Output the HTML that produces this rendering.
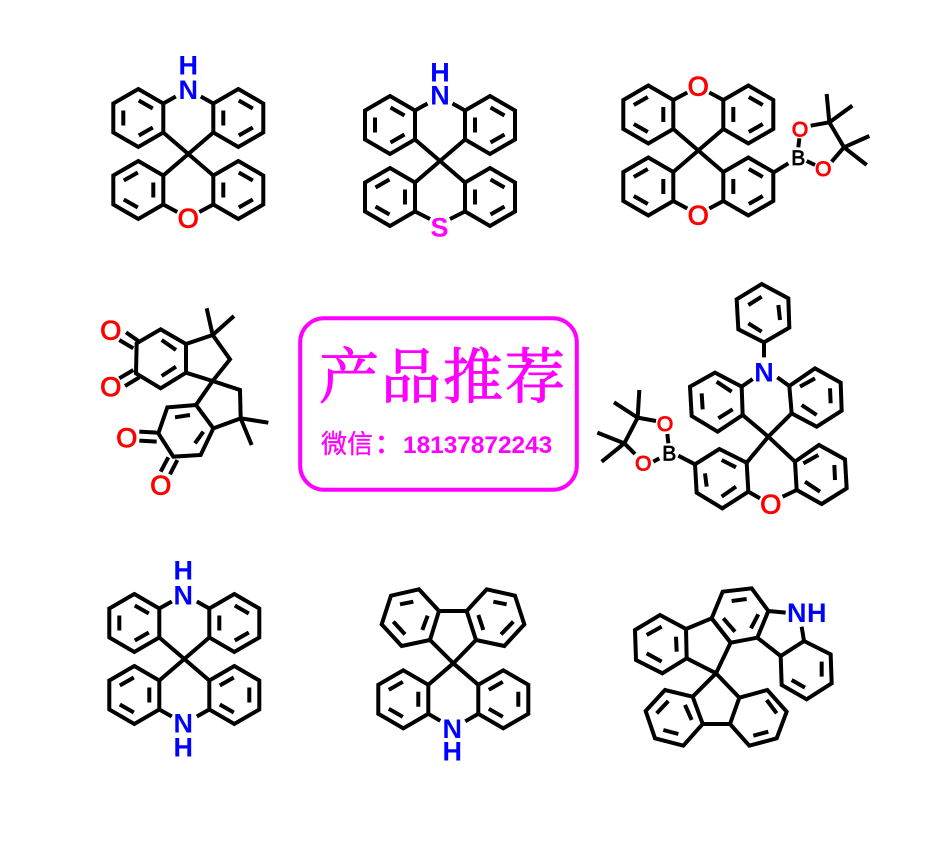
<!DOCTYPE html>
<html><head><meta charset="utf-8"><style>
html,body{margin:0;padding:0;background:#fff}
svg{display:block}
.b{fill:none;stroke:#000;stroke-width:4;stroke-linejoin:miter}
.z{fill:none;stroke:#000;stroke-width:12;stroke-linejoin:miter}
text{font-family:"Liberation Sans",sans-serif;font-weight:bold;text-anchor:middle}
.a{font-size:27px}.s{font-size:21px;font-weight:normal}
.n{fill:#0000ff}.o{fill:#ff0000;font-weight:normal;stroke:#ff0000;stroke-width:1px}.k{fill:#000}.p{fill:#ff00ff}
</style></head><body>
<svg width="942" height="859" viewBox="0 0 942 859" xmlns="http://www.w3.org/2000/svg">
<defs>
<path id="h" d="M0-29L25-14.5V14.5L0 29L-25 14.5V-14.5Z"/>
<g id="p1" class="b"><use href="#h"/><path d="M-15-7.5V7.5M.5-17.5L14.5-9.5M.5 17.5L14.5 9.5"/></g>
<g id="p2" class="b"><use href="#h"/><path d="M15-7.5V7.5M-.5-17.5L-14.5-9.5M-.5 17.5L-14.5 9.5"/></g>
<path id="sp" class="b" d="M-25-21.5L0 0L25-21.5M-25 21.5L0 0L25 21.5"/>
</defs>

<!-- Molecule 1 -->
<g transform="translate(188.3,154)">
<use href="#p1" x="-50" y="-36"/><use href="#p1" x="50" y="-36"/><use href="#p2" x="-50" y="36"/><use href="#p1" x="50" y="36"/><use href="#sp"/>
<path class="b" d="M-25-50.5L-12.5-57.5M25-50.5L12.5-57.5M-25 50.5L-11 58M25 50.5L11 58"/>
</g>
<text class="a n" x="188.3" y="99">N</text><text class="a n" x="188.3" y="74.7">H</text><text class="a o" x="188.3" y="227.5">O</text>

<!-- Molecule 2 -->
<g transform="translate(440,161)">
<use href="#p1" x="-50" y="-36"/><use href="#p1" x="50" y="-36"/><use href="#p2" x="-50" y="36"/><use href="#p1" x="50" y="36"/><use href="#sp"/>
<path class="b" d="M-25-50.5L-12.5-57.5M25-50.5L12.5-57.5M-25 50.5L-10 58M25 50.5L10 58"/>
</g>
<text class="a n" x="440" y="104.7">N</text><text class="a n" x="440" y="81.7">H</text><text class="a p" x="439.5" y="236.7">S</text>

<!-- Molecule 3 -->
<g transform="translate(698.3,150.5)">
<use href="#p2" x="-50" y="-36"/><use href="#p1" x="50" y="-36"/><use href="#p2" x="-50" y="36"/><use href="#p1" x="50" y="36"/><use href="#sp"/>
<path class="b" d="M-25-50.5L-11-58M25-50.5L11-58M-25 50.5L-11 58M25 50.5L11 58"/>
</g>
<g transform="translate(600,60) scale(.33333)"><path class="z" d="M520 338L565 310M598 235L595 262M620 303L645 315M632 197L688 187L732 262L695 305M688 187L680 102M688 187L757 137M732 262L808 228M732 262L800 315"/></g>
<text class="a o" x="698.3" y="95.5">O</text><text class="a o" x="698.3" y="224.5">O</text>
<text class="s k" x="798.3" y="165" style="stroke:#000;stroke-width:.8px">B</text><text class="s o" x="800" y="136.6">O</text><text class="s o" x="823.3" y="175.9">O</text>

<!-- Molecule 4 -->
<g transform="translate(90,300) scale(.33333)" class="z">
<path d="M140 130L212 88L288 132V218L212 265L138 220ZM215 120L258 150M215 228L258 200M288 132L368 105L420 178L368 243L288 218M368 105L350 25M368 105L432 48M108 97L148 125M88 120L130 145M88 235L130 210M105 258L148 232"/>
<path d="M368 243L450 270L452 355L370 385L318 315ZM318 315L232 322L205 400L250 470L332 465L370 385M255 352L300 345M315 430L340 395M452 355L535 368M452 355L485 435M148 395L200 398M148 422L200 425M235 472L212 515M262 480L240 523"/>
</g>
<text class="a o" x="110.7" y="339.5">O</text><text class="a o" x="110.7" y="396.2">O</text><text class="a o" x="126.7" y="446.8">O</text><text class="a o" x="160.7" y="494.5">O</text>

<!-- Center box -->
<rect x="300.2" y="318.2" width="276.6" height="171.6" rx="24" fill="#fff" stroke="#ff00ff" stroke-width="4"/>
<text x="319" y="398" style="text-anchor:start;font-family:'Liberation Serif','Noto Serif CJK SC',serif;font-size:60px;font-weight:normal;letter-spacing:2px;fill:#ff00ff;stroke:#ff00ff;stroke-width:1.1px">产品推荐</text>
<text x="321" y="453" style="text-anchor:start;font-family:'Liberation Sans','Noto Sans CJK SC',sans-serif;font-size:26px;font-weight:normal;fill:#ff00ff;stroke:#ff00ff;stroke-width:.3px">微信</text>
<circle cx="381.5" cy="438" r="2.4" fill="#ff00ff"/><circle cx="381.5" cy="451" r="2.4" fill="#ff00ff"/>
<text x="403" y="453" style="text-anchor:start;font-size:24.4px;fill:#ff00ff">18137872243</text>

<!-- Molecule 5 -->
<g transform="translate(590,280) scale(.33333)" class="z">
<path d="M515 12L595 55L598 143L522 187L445 148L440 58ZM475 75L515 50M565 75L570 120M475 130L515 155M522 187V232"/>
<path d="M375 278L300 320L305 408L383 455L458 405L455 320ZM380 305L425 335M335 340L338 388M385 415L428 388"/>
<path d="M598 318L675 265L752 308L755 392L680 440L605 400ZM630 320L675 295M720 325L722 370M635 375L680 405"/>
<path d="M488 297L455 320M562 292L598 318M458 405L535 470L605 400M535 470L470 548M535 470L615 545"/>
<path d="M470 548L388 507L315 553L320 638L397 685L475 635ZM395 540L438 562M345 580L350 620M395 650L438 620"/>
<path d="M615 545L687 495L765 538L770 625L695 672L620 630ZM640 550L685 525M733 555L735 600M645 605L690 635"/>
<path d="M475 635L510 655M620 630L578 650M315 553L265 527M235 490L232 462M208 535L190 545M198 423L143 413L103 490L135 522M143 413L148 330M143 413L72 367M103 490L22 458M103 490L35 545"/>
</g>
<text class="a n" x="764" y="381.4">N</text><text class="a o" x="770.7" y="513.5">O</text>
<text class="s k" x="669.3" y="460.4" style="stroke:#000;stroke-width:.8px">B</text><text class="s o" x="665" y="430.9">O</text><text class="s o" x="643.3" y="470.4">O</text>

<!-- Molecule 6 -->
<g transform="translate(184.3,659)">
<use href="#p1" x="-50" y="-36"/><use href="#p1" x="50" y="-36"/><use href="#p2" x="-50" y="36"/><use href="#p2" x="50" y="36"/><use href="#sp"/>
<path class="b" d="M-25-50.5L-12.5-57.5M25-50.5L12.5-57.5M-25 50.5L-12.5 57.5M25 50.5L12.5 57.5"/>
</g>
<text class="a n" x="183.3" y="604.4">N</text><text class="a n" x="183.3" y="579.7">H</text><text class="a n" x="183.3" y="732.4">N</text><text class="a n" x="183.3" y="756.7">H</text>

<!-- Molecule 7 -->
<g transform="translate(453.3,663.3)">
<use href="#p2" x="-50" y="36"/><use href="#p2" x="50" y="36"/>
<path class="b" d="M-25 21.5L0 0L25 21.5M-25 50.5L-13 57.5M25 50.5L12 58"/>
</g>
<g transform="translate(365,575) scale(.33333)" class="z">
<path d="M78 62L162 43L222 108L195 195L110 213L50 148ZM105 88L145 80M85 140L120 178M188 122L172 165"/>
<path d="M305 108L365 43L450 62L478 148L418 213L333 195ZM340 120L355 165M385 80L425 88M408 178L445 140"/>
<path d="M195 195L265 265L333 195M222 108H305"/>
</g>
<text class="a n" x="452.3" y="738">N</text><text class="a n" x="452.3" y="760.7">H</text>

<!-- Molecule 8 -->
<g transform="translate(620,575) scale(.33333)" class="z">
<path d="M120 120L198 162L200 250L127 295L48 255L45 165ZM125 155L80 180M168 185L170 230M80 235L125 260"/>
<path d="M198 162L275 130L332 203L288 295L200 250"/>
<path d="M275 130L308 50L395 40L445 108L412 188L332 203ZM335 78L380 72M415 118L393 160M345 170L310 130M445 108L497 113"/>
<path d="M412 188L482 243L552 198L545 155M552 198L632 238L635 325L560 373L485 330L482 243M605 260V305M555 338L515 315"/>
<path d="M288 295L218 365M288 295L358 368M218 365L135 345L77 408L105 490L190 512L248 447ZM195 390L215 435M110 415L145 378M130 465L175 477"/>
<path d="M358 368L442 345L500 410L470 490L388 512L330 447ZM440 375L470 415M400 482L445 470M248 447H330"/>
</g>
<text class="a n" x="796.7" y="622">N</text><text class="a n" x="816.7" y="622">H</text>
</svg>
</body></html>
